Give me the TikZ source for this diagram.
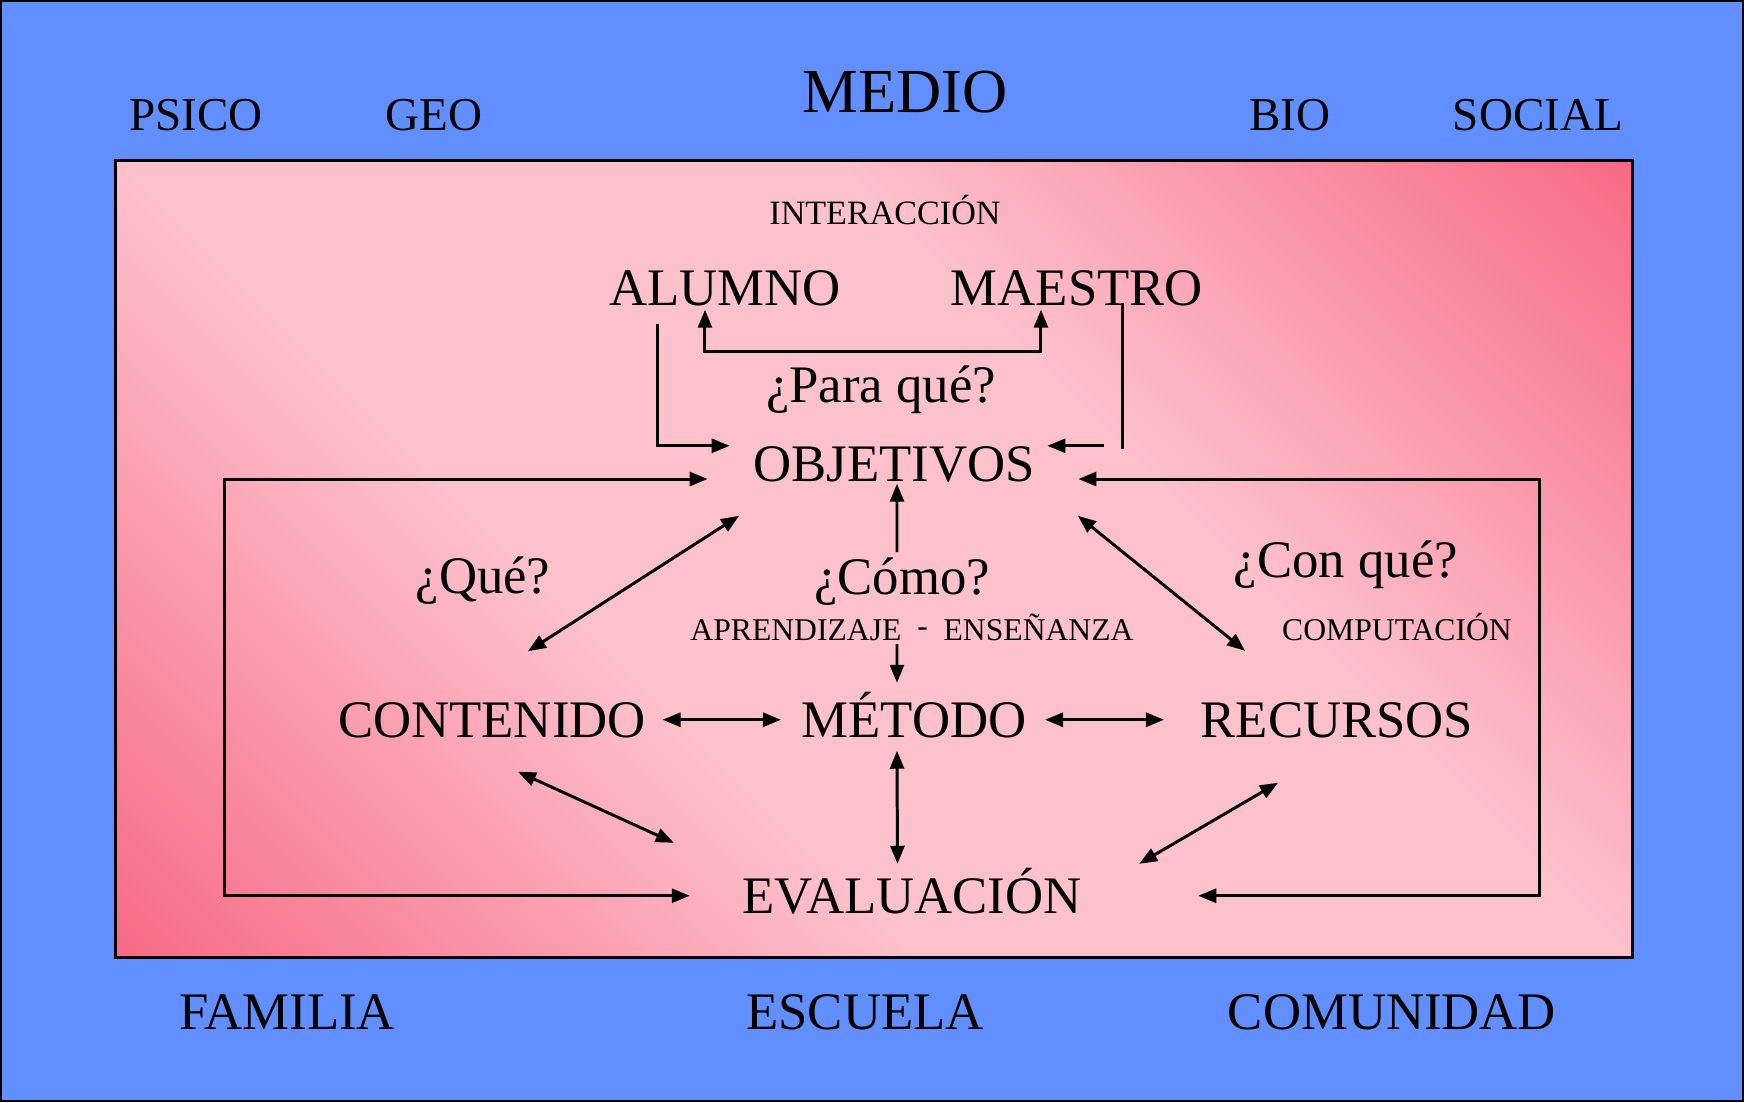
\documentclass[tikz,border=0pt]{standalone}
\usepackage{fontspec}
\setmainfont{Liberation Serif}
\usepackage{xcolor}
\usetikzlibrary{arrows.meta}
\definecolor{azulmedio}{RGB}{98,143,255}
\definecolor{rosaclaro}{RGB}{253,193,204}
\definecolor{rosaoscuro}{RGB}{246,104,132}
\pgfdeclarehorizontalshading{rosado}{100bp}{color(0bp)=(rosaoscuro); color(14bp)=(rosaoscuro); color(39bp)=(rosaclaro); color(61bp)=(rosaclaro); color(86bp)=(rosaoscuro); color(100bp)=(rosaoscuro)}

\begin{document}
\begin{tikzpicture}[x=0.01cm, y=-0.01cm, >={Triangle[length=0.18cm,width=0.14cm]},
  concepto/.style={font=\fontsize{15}{18}\selectfont, anchor=base, text height=0.345cm, text depth=0cm, inner sep=0cm},
  pregunta/.style={font=\fontsize{15}{18}\selectfont, anchor=base, inner sep=0cm},
  nota/.style={font=\fontsize{9}{11}\selectfont, anchor=base, inner sep=0cm},
  ambito/.style={font=\fontsize{13.4}{16}\selectfont, anchor=base, inner sep=0cm},
  enlace/.style={line width=0.85pt}]
\fill[azulmedio] (0,0) rectangle (1744,1102);
\draw[line width=0.02cm] (1,1) rectangle (1743,1101);
\shade[shading=rosado, shading angle=45] (115.5,160.5) rectangle (1632.5,957.5);
\draw[line width=0.027cm] (115.5,160.5) rectangle (1632.5,957.5);

\draw node(psico)[ambito] at (196,130) {PSICO};
\draw node(geo)[ambito] at (434,130) {GEO};
\draw node(medio)[ambito, font=\fontsize{17.8}{21}\selectfont] at (905,112) {MEDIO};
\draw node(bio)[ambito] at (1290,130) {BIO};
\draw node(social)[ambito] at (1538,130) {SOCIAL};
\draw node(interaccion)[nota, font=\fontsize{9.7}{11}\selectfont] at (885,224) {INTERACCIÓN};
\draw node(alumno)[concepto] at (725,305) {ALUMNO};
\draw node(maestro)[concepto] at (1077,305) {MAESTRO};
\draw node(paraque)[pregunta] at (881,402) {¿Para qué?};
\draw node(objetivos)[concepto] at (894,481) {OBJETIVOS};
\draw node(que)[pregunta] at (483,593) {¿Qué?};
\draw node(como)[pregunta] at (902,594) {¿Cómo?};
\draw node(conque)[pregunta] at (1346,577) {¿Con qué?};
\draw node(aprendizaje)[nota] at (912,640) {APRENDIZAJE\hspace{0.5em}\raisebox{0.12em}{-}\hspace{0.5em}ENSEÑANZA};
\draw node(computacion)[nota] at (1397,640) {COMPUTACIÓN};
\draw node(contenido)[concepto] at (492,737) {CONTENIDO};
\draw node(metodo)[concepto] at (914,737) {MÉTODO};
\draw node(recursos)[concepto] at (1337,737) {RECURSOS};
\draw node(evaluacion)[concepto] at (912,913) {EVALUACIÓN};
\draw node(familia)[concepto] at (287,1029) {FAMILIA};
\draw node(escuela)[concepto] at (865,1029) {ESCUELA};
\draw node(comunidad)[concepto] at (1392,1029) {COMUNIDAD};

\draw[enlace,<->] ([xshift=-0.2cm,yshift=-0.04cm]alumno.south) -- ++(0,42) -| ([xshift=-0.36cm,yshift=-0.04cm]maestro.south);
\draw[enlace,->] ([xshift=-0.67cm,yshift=-0.18cm]alumno.south) |- ([xshift=-0.23cm]objetivos.north west);
\draw[enlace] ([xshift=0.45cm,yshift=0.03cm]maestro.south) -- ++(0,146);
\draw[enlace,->] ([xshift=0.69cm]objetivos.north east) -- ([xshift=0.12cm]objetivos.north east);
\draw[enlace,<->] ([xshift=-0.45cm,yshift=0.02cm]objetivos.base west) -- ++(-483,0) |- ([xshift=-0.52cm]evaluacion.west);
\draw[enlace,<->] ([xshift=0.43cm,yshift=0.02cm]objetivos.base east) -- ++(461,0) |- ([xshift=1.16cm]evaluacion.east);
\draw[enlace,<->] ([xshift=-0.135cm,yshift=-0.34cm]objetivos.south west) -- ([xshift=0.36cm,yshift=0.505cm]contenido.north);
\draw[enlace,<->] ([xshift=0.425cm,yshift=-0.34cm]objetivos.south east) -- ([xshift=0.45cm,yshift=0.51cm]recursos.north west);
\draw[enlace,<->] ([xshift=0.26cm,yshift=-0.34cm]contenido.south) -- ([xshift=-0.68cm,yshift=0.35cm]evaluacion.north west);
\draw[enlace,<->] ([xshift=0.78cm,yshift=-0.45cm]recursos.south west) -- ([xshift=0.57cm,yshift=0.14cm]evaluacion.north east);
\draw[enlace,<->] ([xshift=0.16cm]contenido.east) -- ([xshift=-0.2cm]metodo.west);
\draw[enlace,<->] ([xshift=0.18cm]metodo.east) -- ([xshift=-0.36cm]recursos.west);
\draw[enlace,->] ([xshift=-0.05cm,yshift=0.045cm]como.north) -- ([xshift=0.03cm,yshift=-0.02cm]objetivos.south);
\draw[enlace,->] ([xshift=-0.15cm,yshift=-0.03cm]aprendizaje.south) -- ([xshift=-0.17cm,yshift=0.19cm]metodo.north);
\draw[enlace,<->] ([xshift=-0.17cm,yshift=-0.13cm]metodo.south) -- ([xshift=-0.145cm,yshift=0.14cm]evaluacion.north);
\end{tikzpicture}
\end{document}
